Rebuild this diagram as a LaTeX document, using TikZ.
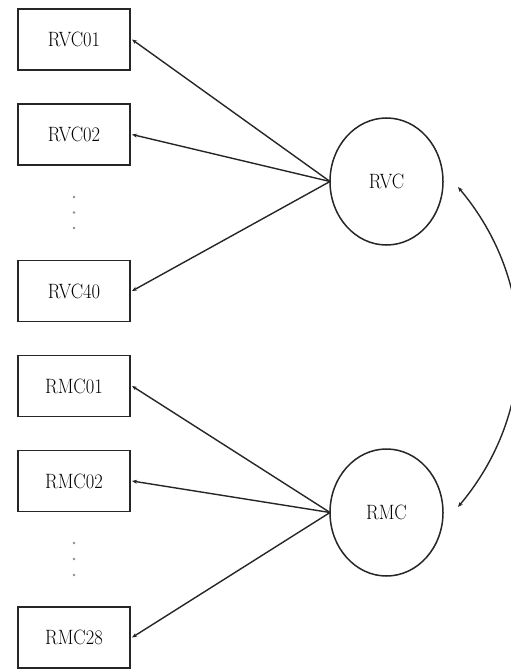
\documentclass[tikz,border=0pt]{standalone}
\usepackage{graphicx}
\usetikzlibrary{arrows.meta,shapes.geometric}
\begin{document}
\begin{tikzpicture}[x=1pt,y=-1pt,
  lbl/.style={font=\fontsize{18.5}{20}\selectfont},
  obsbox/.style={draw=black!85,line width=1.5pt,rectangle,minimum width=112pt,minimum height=61pt,inner sep=0pt,outer sep=2pt,lbl},
  latent/.style={draw=black!85,line width=1.5pt,ellipse,minimum width=113pt,minimum height=127pt,inner sep=0pt,outer sep=0pt,lbl},
  ldot/.style={circle,fill=black!45,inner sep=0pt,minimum size=2.6pt},
  load/.style={draw=black!85,line width=1.4pt,-{Stealth[length=5pt,width=4pt]}},
  cov/.style={draw=black!85,line width=1.4pt,{Stealth[length=5pt,width=4pt]}-{Stealth[length=5pt,width=4pt]}}]
\useasboundingbox (0,0) rectangle (511,669);
\newcommand{\tx}[1]{\scalebox{1}[1.12]{#1}}
\node[obsbox] (v1) at (74,39.5) {\tx{RVC01}};
\node[obsbox] (v2) at (74,134.5) {\tx{RVC02}};
\node[obsbox] (v40) at (74,291) {\tx{RVC40}};
\node[obsbox] (m1) at (74,386) {\tx{RMC01}};
\node[obsbox] (m2) at (74,481) {\tx{RMC02}};
\node[obsbox] (m28) at (74,637.5) {\tx{RMC28}};
\node[ldot] (vd1) at (74,197) {};
\node[ldot] (vd2) at (74,212.5) {};
\node[ldot] (vd3) at (74,228) {};
\node[ldot] (md1) at (74,543) {};
\node[ldot] (md2) at (74,559) {};
\node[ldot] (md3) at (74,575) {};
\node[latent] (rvc) at (386.5,181.5) {\tx{RVC}};
\node[latent] (rmc) at (386.5,512.5) {\tx{RMC}};
\draw[load] (rvc.west) -- (v1.east);
\draw[load] (rvc.west) -- (v2.east);
\draw[load] (rvc.west) -- (v40.east);
\draw[load] (rmc.west) -- (m1.east);
\draw[load] (rmc.west) -- (m2.east);
\draw[load] (rmc.west) -- (m28.east);
\coordinate (c1) at (458,187);
\coordinate (c2) at (458,507);
\draw[cov] (c1) to[bend left=40] (c2);
\end{tikzpicture}
\end{document}
